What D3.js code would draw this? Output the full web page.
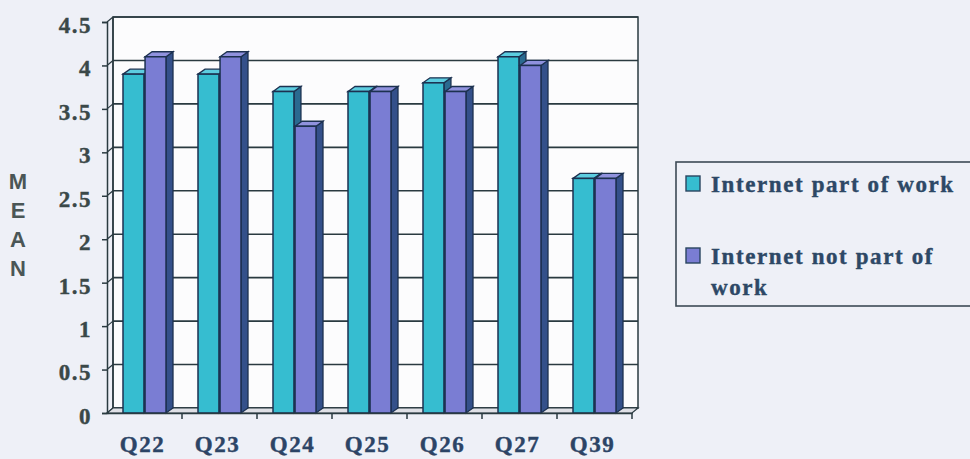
<!DOCTYPE html>
<html><head><meta charset="utf-8">
<script src="https://cdn.jsdelivr.net/npm/d3@7"></script>
<style>html,body{margin:0;padding:0;background:#eef0f7;}svg{display:block;}</style>
</head><body>
<svg id="c" width="970" height="459"></svg>
<script>
const categories = ["Q22","Q23","Q24","Q25","Q26","Q27","Q39"];
const seriesNames = ["Internet part of work","Internet not part of work"];
const partOfWork =    [3.9, 3.9, 3.7, 3.7, 3.8, 4.1, 2.7];
const notPartOfWork = [4.1, 4.1, 3.3, 3.7, 3.7, 4.0, 2.7];
const yTicks = [0,0.5,1,1.5,2,2.5,3,3.5,4,4.5];

const svg = d3.select("#c");
svg.append("rect").attr("width",970).attr("height",459).attr("fill","#eef0f7");

const front = {left:107, right:632, top:22, bottom:413};
const wdx = 6, wdy = -5;      // wall depth
const bdx = 7, bdy = -5;      // bar depth
const y = d3.scaleLinear().domain([0,4.5]).range([front.bottom, front.top]);
const x = d3.scaleBand().domain(categories).range([front.left, front.right]);
const xi = d3.scaleBand().domain([0,1]).range([16, 59]).paddingInner(0.05);

const fills = ["#36bdd0","#7a7dd3"];
const tops  = ["#5ccde0","#9092de"];
const sides = ["#2a6a90","#34508a"];
const stroke = "#1c3150";
const lineCol = "#2a3a40";

// back wall
const g = svg.append("g");
g.append("rect").attr("x",front.left+wdx).attr("y",y(4.5)+wdy)
  .attr("width",front.right-front.left).attr("height",y(0)-y(4.5))
  .attr("fill","#fcfcfd").attr("stroke",lineCol).attr("stroke-width",1.5);
// gridlines
g.selectAll(".grid").data(yTicks).join("line")
  .attr("x1",front.left+wdx).attr("x2",front.right+wdx)
  .attr("y1",d=>y(d)+wdy).attr("y2",d=>y(d)+wdy)
  .attr("stroke",lineCol).attr("stroke-width",1.6);
// left wall
g.append("line").attr("x1",front.left+wdx).attr("x2",front.left+wdx)
  .attr("y1",y(4.5)+wdy).attr("y2",y(0)+wdy).attr("stroke",lineCol).attr("stroke-width",1.4);
g.selectAll(".lw").data(yTicks).join("line")
  .attr("x1",front.left).attr("x2",front.left+wdx)
  .attr("y1",d=>y(d)).attr("y2",d=>y(d)+wdy)
  .attr("stroke",lineCol).attr("stroke-width",1.2);
// floor
g.append("path")
  .attr("d",`M${front.left},${y(0)} L${front.left+wdx},${y(0)+wdy} L${front.right+wdx},${y(0)+wdy} L${front.right},${y(0)} Z`)
  .attr("fill","#dfe0e6").attr("stroke",lineCol).attr("stroke-width",1.2);

// bars
const data = categories.map((c,i)=>({c, v:[partOfWork[i], notPartOfWork[i]]}));
data.forEach(d=>{
  [0,1].forEach(s=>{
    const x0 = x(d.c)+xi(s), w = xi.bandwidth(), yt = y(d.v[s]), yb = y(0);
    const bg = svg.append("g");
    bg.append("path").attr("d",`M${x0+w},${yt} L${x0+w+bdx},${yt+bdy} L${x0+w+bdx},${yb+bdy} L${x0+w},${yb} Z`)
      .attr("fill",sides[s]).attr("stroke",stroke).attr("stroke-width",1.3);
    bg.append("path").attr("d",`M${x0},${yt} L${x0+bdx},${yt+bdy} L${x0+w+bdx},${yt+bdy} L${x0+w},${yt} Z`)
      .attr("fill",tops[s]).attr("stroke",stroke).attr("stroke-width",1.3);
    bg.append("rect").attr("x",x0).attr("y",yt).attr("width",w).attr("height",yb-yt)
      .attr("fill",fills[s]).attr("stroke",stroke).attr("stroke-width",1.5);
  });
});

const serif = "'Liberation Serif','Times New Roman',serif";
// y axis
const ya = svg.append("g").attr("transform",`translate(${front.left},0)`)
  .call(d3.axisLeft(y).tickValues(yTicks).tickSize(5).tickPadding(10).tickFormat(d3.format("")));
ya.select(".domain").attr("stroke",lineCol).attr("stroke-width",1.5);
ya.selectAll(".tick line").attr("stroke",lineCol).attr("stroke-width",1.5);
ya.selectAll("text").attr("font-family",serif)
  .attr("font-weight","bold").attr("font-size",23).attr("letter-spacing","1.5")
  .attr("fill","#3a4848").attr("stroke","#3a4848").attr("stroke-width",0.4).attr("dy","0.45em");

// x axis
const xa = svg.append("g").attr("transform",`translate(0,${front.bottom})`)
  .call(d3.axisBottom(x).tickSize(0).tickPadding(23));
xa.select(".domain").attr("stroke",lineCol).attr("stroke-width",1.5);
xa.selectAll("text").attr("font-family",serif)
  .attr("font-weight","bold").attr("font-size",23).attr("letter-spacing","1.5")
  .attr("fill","#2c4466").attr("stroke","#2c4466").attr("stroke-width",0.4).attr("dx","-2");
// boundary ticks
svg.selectAll(".bt").data(categories).join("line")
  .attr("x1",(d,i)=>front.left+(i+1)*x.step()).attr("x2",(d,i)=>front.left+(i+1)*x.step())
  .attr("y1",front.bottom).attr("y2",front.bottom+6)
  .attr("stroke",lineCol).attr("stroke-width",1.5);

// y title
const title = ["M","E","A","N"];
svg.selectAll(".yt").data(title).join("text")
  .attr("x",18).attr("y",(d,i)=>189+i*29).attr("text-anchor","middle")
  .attr("font-family","'Liberation Sans',Arial,sans-serif").attr("font-weight","bold")
  .attr("font-size",22).attr("fill","#4a5656").text(d=>d);

// legend
const lg = svg.append("g");
lg.append("rect").attr("x",676).attr("y",162).attr("width",300).attr("height",144)
  .attr("fill","none").attr("stroke","#3c4a55").attr("stroke-width",1.6);
const legLines = [["Internet part of work"],["Internet not part of","work"]];
const legY = [176, 248];
seriesNames.forEach((n,i)=>{
  lg.append("rect").attr("x",686).attr("y",legY[i]).attr("width",14).attr("height",15)
    .attr("fill",fills[i]).attr("stroke","#2a4560").attr("stroke-width",1.4);
  legLines[i].forEach((t,j)=>{
    lg.append("text").attr("x",711).attr("y",legY[i]+16+j*31)
      .attr("font-family",serif).attr("font-weight","bold")
      .attr("font-size",23).attr("letter-spacing","1.6").attr("fill","#2d4866")
      .attr("stroke","#2d4866").attr("stroke-width",0.4).text(t);
  });
});
</script>
</body></html>
